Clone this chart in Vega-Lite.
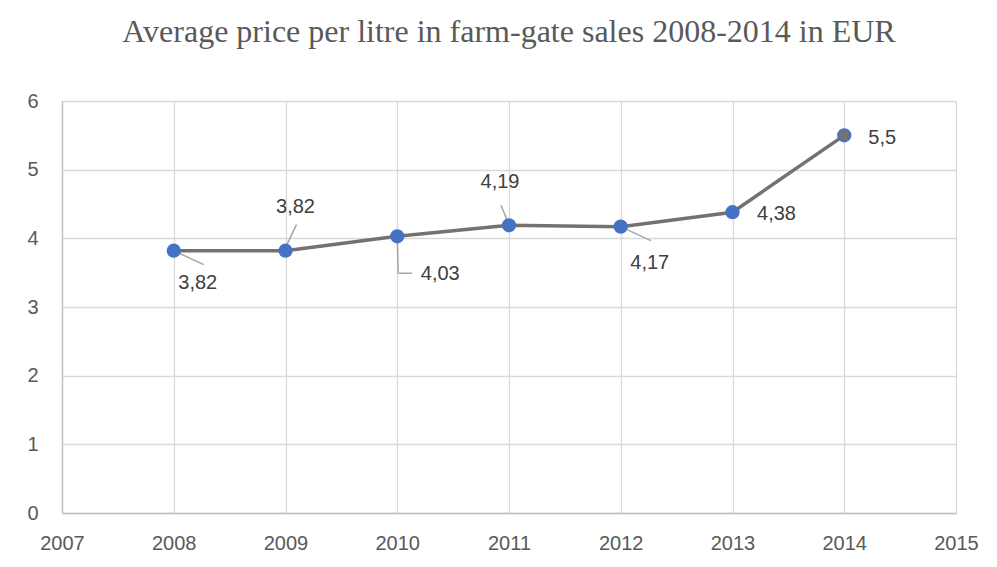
{
  "$schema": "https://vega.github.io/schema/vega-lite/v6.json",
  "width": 894,
  "height": 412,
  "autosize": {"type": "none"},
  "padding": {"left": 62, "top": 101, "right": 41, "bottom": 54},
  "background": "#ffffff",
  "title": {
    "text": "Average price per litre in farm-gate sales 2008-2014 in EUR",
    "font": "Liberation Serif",
    "fontSize": 32,
    "fontWeight": "normal",
    "color": "#595959",
    "anchor": "middle",
    "offset": 42
  },
  "config": {
    "locale": {"number": {"decimal": ",", "thousands": ".", "grouping": [3], "currency": ["", " €"]}},
    "view": {"stroke": null},
    "axis": {
      "labelFont": "Liberation Sans",
      "labelFontSize": 20,
      "labelColor": "#595959",
      "gridColor": "#D9D9D9",
      "gridWidth": 1.3,
      "domainColor": "#BFBFBF",
      "domainWidth": 1.3,
      "ticks": false,
      "title": null
    }
  },
  "data": {
    "values": [
      {"year": 2008, "price": 3.82},
      {"year": 2009, "price": 3.82},
      {"year": 2010, "price": 4.03},
      {"year": 2011, "price": 4.19},
      {"year": 2012, "price": 4.17},
      {"year": 2013, "price": 4.38},
      {"year": 2014, "price": 5.5}
    ]
  },
  "encoding": {
    "x": {
      "field": "year",
      "type": "quantitative",
      "scale": {"domain": [2007, 2015], "nice": false, "zero": false},
      "axis": {"values": [2007, 2008, 2009, 2010, 2011, 2012, 2013, 2014, 2015], "format": "d", "labelPadding": 20, "labelFlush": false}
    },
    "y": {
      "field": "price",
      "type": "quantitative",
      "scale": {"domain": [0, 6], "nice": false},
      "axis": {"values": [0, 1, 2, 3, 4, 5, 6], "format": "d", "labelPadding": 24}
    }
  },
  "layer": [
    {"mark": {"type": "line", "color": "#767171", "strokeWidth": 3.5}},
    {
      "transform": [{"filter": "datum.year == 2008 || datum.year == 2012"}],
      "mark": {"type": "rule", "color": "#A6A6A6", "strokeWidth": 1.5, "x2Offset": 30, "y2Offset": 14},
      "encoding": {"x2": {"field": "year"}, "y2": {"field": "price"}}
    },
    {
      "transform": [{"filter": "datum.year == 2009"}],
      "mark": {"type": "rule", "color": "#A6A6A6", "strokeWidth": 1.5, "yOffset": -3, "x2Offset": 11, "y2Offset": -26},
      "encoding": {"x2": {"field": "year"}, "y2": {"field": "price"}}
    },
    {
      "transform": [{"filter": "datum.year == 2010"}],
      "mark": {"type": "rule", "color": "#A6A6A6", "strokeWidth": 1.5, "x2Offset": 1, "y2Offset": 37},
      "encoding": {"x2": {"field": "year"}, "y2": {"field": "price"}}
    },
    {
      "transform": [{"filter": "datum.year == 2010"}],
      "mark": {"type": "rule", "color": "#A6A6A6", "strokeWidth": 1.5, "xOffset": 1, "yOffset": 37, "x2Offset": 15, "y2Offset": 37},
      "encoding": {"x2": {"field": "year"}, "y2": {"field": "price"}}
    },
    {
      "transform": [{"filter": "datum.year == 2011"}],
      "mark": {"type": "rule", "color": "#A6A6A6", "strokeWidth": 1.5, "xOffset": -8, "yOffset": -20, "x2Offset": -1, "y2Offset": -3},
      "encoding": {"x2": {"field": "year"}, "y2": {"field": "price"}}
    },
    {
      "mark": {"type": "point", "filled": true, "size": 150, "opacity": 1, "stroke": "#4472C4", "strokeWidth": 2},
      "encoding": {
        "fill": {"condition": {"test": "datum.year == 2014", "value": "#767171"}, "value": "#4472C4"}
      }
    },
    {
      "transform": [{"filter": "datum.year == 2008"}],
      "mark": {"type": "text", "font": "Liberation Sans", "fontSize": 20, "color": "#404040", "dx": 24, "dy": 32},
      "encoding": {"text": {"field": "price", "type": "quantitative", "format": ".3~r"}}
    },
    {
      "transform": [{"filter": "datum.year == 2009"}],
      "mark": {"type": "text", "font": "Liberation Sans", "fontSize": 20, "color": "#404040", "dx": 10, "dy": -44},
      "encoding": {"text": {"field": "price", "type": "quantitative", "format": ".3~r"}}
    },
    {
      "transform": [{"filter": "datum.year == 2010"}],
      "mark": {"type": "text", "font": "Liberation Sans", "fontSize": 20, "color": "#404040", "dx": 43, "dy": 38},
      "encoding": {"text": {"field": "price", "type": "quantitative", "format": ".3~r"}}
    },
    {
      "transform": [{"filter": "datum.year == 2011"}],
      "mark": {"type": "text", "font": "Liberation Sans", "fontSize": 20, "color": "#404040", "dx": -9, "dy": -43},
      "encoding": {"text": {"field": "price", "type": "quantitative", "format": ".3~r"}}
    },
    {
      "transform": [{"filter": "datum.year == 2012"}],
      "mark": {"type": "text", "font": "Liberation Sans", "fontSize": 20, "color": "#404040", "dx": 29, "dy": 36},
      "encoding": {"text": {"field": "price", "type": "quantitative", "format": ".3~r"}}
    },
    {
      "transform": [{"filter": "datum.year == 2013"}],
      "mark": {"type": "text", "font": "Liberation Sans", "fontSize": 20, "color": "#404040", "dx": 44, "dy": 2},
      "encoding": {"text": {"field": "price", "type": "quantitative", "format": ".3~r"}}
    },
    {
      "transform": [{"filter": "datum.year == 2014"}],
      "mark": {"type": "text", "font": "Liberation Sans", "fontSize": 20, "color": "#404040", "dx": 38, "dy": 3},
      "encoding": {"text": {"field": "price", "type": "quantitative", "format": ".3~r"}}
    }
  ]
}
